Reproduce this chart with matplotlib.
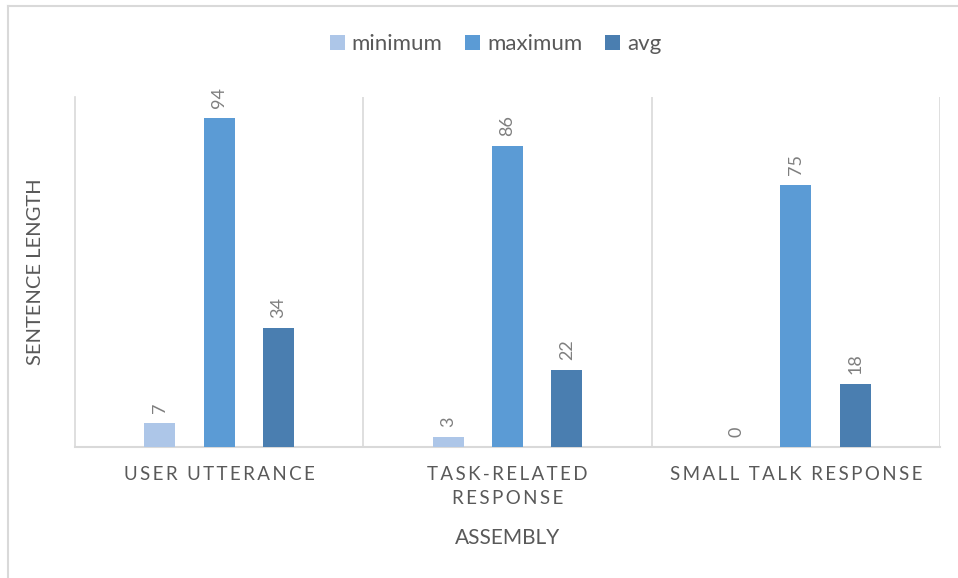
import matplotlib.pyplot as plt
import numpy as np
from matplotlib.lines import Line2D

plt.rcParams['font.family'] = ['Lato', 'DejaVu Sans']

categories = ["USER UTTERANCE", "TASK-RELATED\nRESPONSE", "SMALL TALK RESPONSE"]
series_names = ["minimum", "maximum", "avg"]
minimum = [7, 3, 0]
maximum = [94, 86, 75]
avg = [34, 22, 18]
colors = ["#adc6e8", "#5b9bd5", "#4a7eb0"]


def spaced(s):
    # mimic Excel's letter spacing on category labels
    return "\n".join("\u2009".join(ch for ch in line) for line in s.split("\n"))


fig = plt.figure(figsize=(9.58, 5.78), dpi=100)
ax = fig.add_axes([75 / 958, 1 - 447 / 578, (940 - 75) / 958, 350 / 578])

x = np.arange(len(categories))
offset = 0.206
width = 0.108
for i, (vals, name, c) in enumerate(zip([minimum, maximum, avg], series_names, colors)):
    pos = x + (i - 1) * offset
    ax.bar(pos, vals, width=width, color=c, label=name, zorder=3)
    for p, v in zip(pos, vals):
        ax.annotate(str(v), (p, v), xytext=(0, 7), textcoords="offset points",
                    rotation=90, ha="center", va="bottom", fontsize=13, color="#7f7f7f")

ax.set_xlim(-0.5, 2.5)
ax.set_ylim(0, 100)
ax.set_yticks([])
ax.set_xticks(x)
ax.set_xticklabels([spaced(c) for c in categories], fontsize=13.5, color="#595959",
                   linespacing=1.5)
ax.tick_params(axis="x", length=0, pad=14)
for sep in [0.5, 1.5, 2.5]:
    ax.axvline(sep, color="#d9d9d9", lw=1.2, zorder=1)
for s in ["top", "right"]:
    ax.spines[s].set_visible(False)
ax.spines["left"].set_color("#d9d9d9")
ax.spines["bottom"].set_color("#d9d9d9")
ax.spines["left"].set_linewidth(1.2)
ax.spines["bottom"].set_linewidth(1.5)

ax.set_ylabel("SENTENCE LENGTH", fontsize=14.5, color="#595959", labelpad=22)
ax.set_xlabel("ASSEMBLY", fontsize=15, color="#595959", labelpad=15)

fig.legend(loc="upper center", bbox_to_anchor=(0.517, 0.975), ncol=3, frameon=False,
           fontsize=16, handlelength=0.7, handleheight=0.7, handletextpad=0.3,
           columnspacing=1.0, labelcolor="#595959")

# chart area border (left and top edges visible)
fig.add_artist(Line2D([7.5 / 958, 7.5 / 958], [0, 1 - 6 / 578], color="#d9d9d9", lw=1.5))
fig.add_artist(Line2D([7.5 / 958, 1], [1 - 6 / 578, 1 - 6 / 578], color="#d9d9d9", lw=1.5))

fig.savefig("out.png", dpi=100)
